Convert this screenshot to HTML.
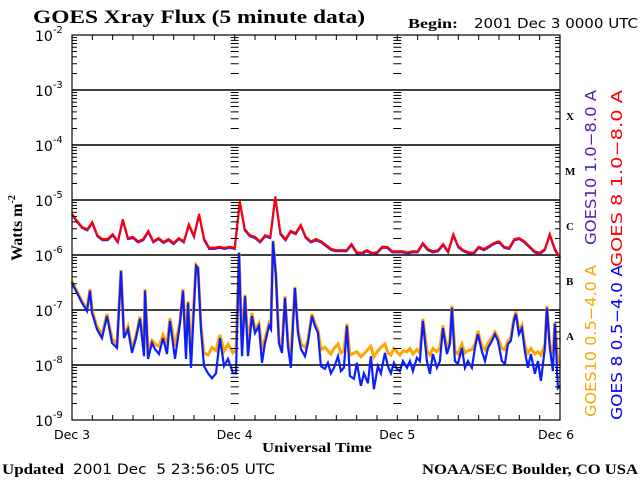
<!DOCTYPE html>
<html><head><meta charset="utf-8"><style>
html,body{margin:0;padding:0;background:#fff;}
svg{display:block;}
.serif{font-family:"Liberation Serif",serif;font-weight:bold;}
.sans{font-family:"DejaVu Sans","Liberation Sans",sans-serif;}
</style></head><body>
<svg id="chart" width="640" height="480" viewBox="0 0 640 480" xmlns="http://www.w3.org/2000/svg">
<text class="serif" x="33" y="23" font-size="19" textLength="332" lengthAdjust="spacingAndGlyphs">GOES Xray Flux (5 minute data)</text>
<text class="serif" x="408" y="28" font-size="14" textLength="50" lengthAdjust="spacingAndGlyphs">Begin:</text>
<text class="sans" x="474" y="28" font-size="13" textLength="164" lengthAdjust="spacingAndGlyphs">2001 Dec 3 0000 UTC</text>
<text class="serif" font-size="16" transform="translate(22,228) rotate(-90)" text-anchor="middle">Watts m<tspan font-size="10" dy="-7">-2</tspan></text>
<text class="serif" x="262" y="452" font-size="14" textLength="110" lengthAdjust="spacingAndGlyphs">Universal Time</text>
<text class="serif" x="2" y="474" font-size="15" textLength="62" lengthAdjust="spacingAndGlyphs">Updated</text>
<text class="sans" x="73" y="474" font-size="14" textLength="202" lengthAdjust="spacingAndGlyphs" xml:space="preserve">2001 Dec  5 23:56:05 UTC</text>
<text class="serif" x="422" y="474" font-size="15" textLength="216" lengthAdjust="spacingAndGlyphs">NOAA/SEC Boulder, CO USA</text>
<g id="grid"></g><g id="series"></g><g id="axes"></g>
<g class="serif" font-size="11">
<text x="566" y="120">X</text>
<text x="565" y="175">M</text>
<text x="566" y="230">C</text>
<text x="566" y="285">B</text>
<text x="566" y="340">A</text>
</g>
<g class="sans" font-size="15">
<text fill="#5a1ab4" transform="translate(596,245) rotate(-90)" textLength="155" lengthAdjust="spacingAndGlyphs">GOES10 1.0−8.0 A</text>
<text fill="#ff0000" transform="translate(622,267) rotate(-90)" textLength="177" lengthAdjust="spacingAndGlyphs">GOES 8 1.0−8.0 A</text>
<text fill="#ffa500" transform="translate(596,417) rotate(-90)" textLength="152" lengthAdjust="spacingAndGlyphs">GOES10 0.5−4.0 A</text>
<text fill="#0000ff" transform="translate(622,420) rotate(-90)" textLength="155" lengthAdjust="spacingAndGlyphs">GOES 8 0.5−4.0 A</text>
</g>
</svg>
<script>
const dayLabels=["Dec 3","Dec 4","Dec 5","Dec 6"];
const decades=[-2,-3,-4,-5,-6,-7,-8,-9];
const longHours=[];for(let i=0;i<97;i++)longHours.push(i*0.75);
const goes8Long=[-5.25,-5.38,-5.49,-5.53,-5.40,-5.64,-5.71,-5.71,-5.62,-5.75,
-5.35,-5.69,-5.67,-5.75,-5.71,-5.56,-5.75,-5.69,-5.76,-5.71,
-5.78,-5.69,-5.75,-5.44,-5.65,-5.25,-5.71,-5.87,-5.87,-5.85,
-5.87,-5.85,-5.87,-5.02,-5.53,-5.64,-5.67,-5.75,-5.64,-5.67,
-4.93,-5.60,-5.71,-5.56,-5.60,-5.45,-5.67,-5.75,-5.71,-5.75,
-5.82,-5.89,-5.91,-5.91,-5.91,-5.80,-5.95,-5.96,-5.91,-5.96,
-5.95,-5.85,-5.85,-5.93,-5.93,-5.93,-5.95,-5.93,-5.93,-5.78,
-5.89,-5.93,-5.91,-5.80,-5.93,-5.62,-5.84,-5.91,-5.95,-5.96,
-5.85,-5.89,-5.84,-5.78,-5.75,-5.85,-5.87,-5.71,-5.69,-5.75,
-5.84,-5.93,-5.96,-5.89,-5.62,-5.89,-6.04];
const goes10Long=[-5.27,-5.40,-5.51,-5.55,-5.42,-5.66,-5.73,-5.73,-5.64,-5.77,
-5.37,-5.71,-5.69,-5.77,-5.73,-5.58,-5.77,-5.71,-5.78,-5.73,
-5.80,-5.71,-5.77,-5.46,-5.67,-5.27,-5.73,-5.89,-5.89,-5.87,
-5.89,-5.87,-5.89,-5.04,-5.55,-5.66,-5.69,-5.77,-5.66,-5.69,
-4.95,-5.62,-5.73,-5.58,-5.62,-5.47,-5.69,-5.77,-5.73,-5.77,
-5.84,-5.91,-5.93,-5.93,-5.93,-5.82,-5.97,-5.98,-5.93,-5.98,
-5.97,-5.87,-5.87,-5.95,-5.95,-5.95,-5.97,-5.95,-5.95,-5.80,
-5.91,-5.95,-5.93,-5.82,-5.95,-5.64,-5.86,-5.93,-5.97,-5.98,
-5.87,-5.91,-5.86,-5.80,-5.77,-5.87,-5.89,-5.73,-5.71,-5.77,
-5.86,-5.95,-5.98,-5.91,-5.64,-5.91,-6.06];
const shortHours=[0,0.74,1.48,2.21,2.66,2.95,3.69,4.43,5.16,5.9,6.64,7.23,7.67,8.26,8.85,9.44,10.03,10.62,10.77,11.21,11.8,12.25,12.84,13.43,14.02,14.46,15.2,15.93,16.38,16.82,17.11,17.56,18.3,18.59,19.03,19.47,20.06,20.65,21.24,21.83,22.42,23.01,23.75,24.19,24.64,25.08,25.52,25.96,26.55,27.0,27.58,28.03,28.47,29.06,29.35,29.65,30.09,30.53,30.98,31.42,31.86,32.3,32.89,33.34,33.78,34.37,34.81,35.4,35.84,36.29,36.73,37.32,37.76,38.2,38.65,39.24,39.68,40.12,40.56,41.0,41.6,42.04,42.63,43.07,43.66,44.1,44.55,45.14,45.58,46.17,46.61,47.05,47.5,47.94,48.38,48.83,49.42,49.86,50.3,50.89,51.33,51.77,52.36,52.81,53.25,53.84,54.28,54.72,55.31,55.76,56.05,56.5,56.94,57.53,57.97,58.42,59.0,59.45,59.89,60.48,60.93,61.37,61.96,62.4,62.84,63.43,63.87,64.32,64.76,65.2,65.5,65.94,66.38,66.82,67.27,67.71,68.3,68.74,69.18,69.77,70.06,70.5,70.95,71.25,71.69,72];
const goes8Short=[-6.51,-6.69,-6.87,-7.02,-6.65,-7.05,-7.35,-7.51,-7.11,-7.60,-7.69,-6.29,-7.51,-7.35,-7.78,-7.51,-7.16,-7.84,-6.65,-7.89,-7.60,-7.71,-7.80,-7.51,-7.80,-7.20,-7.89,-7.24,-6.65,-7.89,-6.87,-8.05,-6.20,-6.24,-7.35,-8.02,-8.15,-8.24,-8.15,-7.51,-8.02,-7.89,-8.15,-8.15,-5.96,-7.84,-6.75,-7.84,-7.11,-7.42,-7.29,-7.96,-7.60,-7.29,-7.35,-5.75,-6.38,-7.60,-7.78,-6.78,-7.65,-8.05,-6.60,-7.42,-7.71,-7.84,-7.60,-7.11,-7.29,-7.42,-8.02,-8.07,-7.96,-8.15,-8.05,-7.84,-8.11,-8.05,-7.29,-8.20,-8.25,-7.96,-8.38,-8.15,-8.33,-7.84,-8.44,-8.02,-8.15,-7.78,-8.02,-8.15,-7.96,-8.07,-8.11,-7.93,-8.05,-7.93,-8.11,-7.87,-7.93,-7.20,-7.93,-8.16,-7.80,-8.05,-7.93,-7.33,-7.80,-7.62,-6.96,-7.93,-7.98,-7.69,-8.05,-7.93,-8.05,-7.69,-7.44,-7.75,-7.93,-7.69,-7.56,-7.44,-7.56,-7.93,-7.98,-7.62,-7.56,-7.20,-7.07,-7.44,-7.33,-7.75,-8.05,-7.80,-8.16,-7.93,-8.29,-7.69,-6.96,-7.69,-8.11,-7.25,-8.42,-8.38];
const goes10Short=[-6.48,-6.66,-6.84,-6.98,-6.62,-7.0,-7.30,-7.45,-7.07,-7.52,-7.62,-6.27,-7.46,-7.30,-7.70,-7.46,-7.12,-7.72,-6.62,-7.74,-7.55,-7.62,-7.66,-7.45,-7.62,-7.15,-7.66,-7.20,-6.62,-7.70,-6.84,-7.80,-6.18,-6.22,-7.30,-7.78,-7.82,-7.68,-7.74,-7.45,-7.75,-7.62,-7.78,-7.72,-5.95,-7.70,-6.72,-7.62,-7.05,-7.36,-7.24,-7.72,-7.52,-7.24,-7.30,-5.74,-6.36,-7.52,-7.66,-6.75,-7.58,-7.80,-6.58,-7.36,-7.62,-7.68,-7.55,-7.07,-7.24,-7.36,-7.72,-7.68,-7.74,-7.80,-7.70,-7.62,-7.78,-7.74,-7.25,-7.82,-7.78,-7.76,-7.85,-7.80,-7.72,-7.66,-7.85,-7.74,-7.68,-7.62,-7.78,-7.82,-7.70,-7.76,-7.82,-7.74,-7.76,-7.70,-7.80,-7.72,-7.78,-7.16,-7.74,-7.82,-7.70,-7.76,-7.68,-7.28,-7.70,-7.55,-6.92,-7.74,-7.80,-7.62,-7.78,-7.74,-7.72,-7.62,-7.38,-7.66,-7.72,-7.60,-7.50,-7.40,-7.50,-7.70,-7.72,-7.56,-7.50,-7.15,-7.03,-7.38,-7.28,-7.66,-7.78,-7.70,-7.80,-7.76,-7.82,-7.62,-6.93,-7.62,-7.80,-7.22,-7.95,-7.92];

const NS="http://www.w3.org/2000/svg";
const X0=72,X1=560,Y0=35,Y1=420,HOURS=72;
function xs(h){return X0+(X1-X0)*h/HOURS;}
function ys(l){return Y0+(-2-l)*(Y1-Y0)/7;}
function mk(tag,attrs,parent){const e=document.createElementNS(NS,tag);for(const k in attrs)e.setAttribute(k,attrs[k]);parent.appendChild(e);return e;}
const grid=document.getElementById('grid'),axes=document.getElementById('axes'),ser=document.getElementById('series');
decades.forEach(d=>{
  if(d>-9&&d<-2){const l=mk('line',{x1:X0,x2:X1,y1:ys(d),y2:ys(d),stroke:'#000','stroke-width':1.5},grid);
  
  }
  const t=mk('text',{x:35,y:ys(d)+6,'font-size':14,'class':'sans'},axes);
  
  
  t.innerHTML='10<tspan font-size="10" dy="-8">'+d+'</tspan>';
});
const fr=mk('rect',{x:X0,y:Y0,width:X1-X0,height:Y1-Y0,fill:'none',stroke:'#000','stroke-width':1.2},axes);


let tp='';
for(let d=-9;d<-2;d++){for(let m=2;m<=9;m++){const y=ys(d+Math.log10(m));
  tp+=`M${X0} ${y}h5M${X1} ${y}h-5`;
  [1,2].forEach(k=>{const x=xs(24*k);tp+=`M${x-4} ${y}h8`;});
}}
for(let d=-9;d<=-2;d++){[1,2].forEach(k=>{const x=xs(24*k);tp+=`M${x-4} ${ys(d)}h8`;});}
for(let h=3;h<72;h+=3){const x=xs(h);tp+=`M${x} ${Y0}v5M${x} ${Y1}v-5`;}
const tk=mk('path',{d:tp,stroke:'#000','stroke-width':1,fill:'none'},axes);


dayLabels.forEach((s,i)=>{let x=xs(24*i);if(i==3)x-=4;
  const t=mk('text',{x:x,y:439,'font-size':12.5,'text-anchor':'middle','class':'sans'},axes);
  
  
  t.textContent=s;});
function line(hours,vals,color,w,name){
  let d='';hours.forEach((h,i)=>{d+=(i?'L':'M')+xs(h).toFixed(1)+' '+ys(vals[i]).toFixed(1);});
  const p=mk('path',{d:d,stroke:color,'stroke-width':w,fill:'none','stroke-linejoin':'miter'},ser);
  
  
}
line(shortHours,goes10Short,'#ffa500',3,'series-goes10-short');
line(shortHours,goes8Short,'#0a1eff',2.2,'series-goes8-short');
line(longHours,goes10Long,'#5a1ab4',2.2,'series-goes10-long');
line(longHours,goes8Long,'#ff0000',2,'series-goes8-long');
</script>
</body></html>
